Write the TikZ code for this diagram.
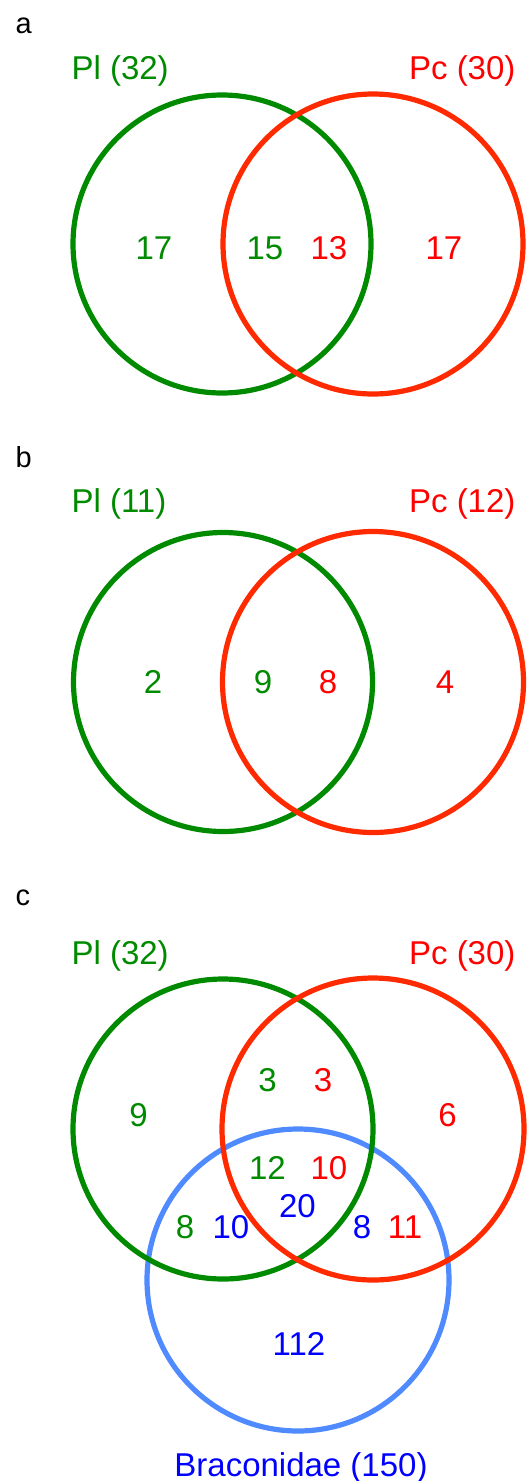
\documentclass[tikz,border=0pt]{standalone}
\usepackage{fontspec}
\setmainfont{Liberation Sans}
\definecolor{PlGreen}{HTML}{008A00}
\definecolor{PcRed}{HTML}{FF2A00}
\definecolor{PcText}{HTML}{FF0000}
\definecolor{BrBlue}{HTML}{4F8BFF}
\definecolor{BrText}{HTML}{0000FF}

\begin{document}
\begin{tikzpicture}[x=1pt, y=-1pt,
    setline/.style={line width=5.2pt},
    num/.style={font=\fontsize{33}{36}\selectfont},
    panel/.style={font=\fontsize{29}{32}\selectfont, anchor=base west}]
    \useasboundingbox (0,0) rectangle (529,1481);

    % Panel a
    \node[panel] (pa) at (12, 33.5) {a};
    \node[num, PlGreen, anchor=base west] (pla) at (68, 79.5) {Pl (32)};
    \node[num, PcText, anchor=base east] (pca) at (519, 79.5) {Pc (30)};
    \draw[PlGreen, setline] (222, 244) circle (149);
    \draw[PcRed, setline] (373, 244) circle (150);
    \node[num, PlGreen] (a1) at (154, 248) {17};
    \node[num, PlGreen] (a2) at (265, 248) {15};
    \node[num, PcText] (a3) at (329, 248) {13};
    \node[num, PcText] (a4) at (444, 248) {17};

    % Panel b
    \node[panel] (pb) at (12, 467) {b};
    \node[num, PlGreen, anchor=base west] (plb) at (68, 512.5) {Pl (11)};
    \node[num, PcText, anchor=base east] (pcb) at (519, 512.5) {Pc (12)};
    \draw[PlGreen, setline] (223, 682) circle (149.5);
    \draw[PcRed, setline] (373, 682) circle (150.5);
    \node[num, PlGreen] (b1) at (153, 682) {2};
    \node[num, PlGreen] (b2) at (263, 682) {9};
    \node[num, PcText] (b3) at (328, 682) {8};
    \node[num, PcText] (b4) at (445, 682) {4};

    % Panel c
    \node[panel] (pc) at (12, 905) {c};
    \node[num, PlGreen, anchor=base west] (plc) at (68, 964) {Pl (32)};
    \node[num, PcText, anchor=base east] (pcc) at (519, 964) {Pc (30)};
    \draw[BrBlue, setline] (298, 1280) circle (151);
    \draw[PlGreen, setline] (223, 1129) circle (150);
    \draw[PcRed, setline] (373, 1129) circle (151);
    \node[num, PlGreen] (c1) at (138.5, 1115) {9};
    \node[num, PlGreen] (c2) at (267.5, 1080) {3};
    \node[num, PcText] (c3) at (323, 1080) {3};
    \node[num, PcText] (c4) at (447.5, 1115) {6};
    \node[num, PlGreen] (c5) at (267.5, 1168) {12};
    \node[num, PcText] (c6) at (329, 1168) {10};
    \node[num, BrText] (c7) at (297.5, 1206) {20};
    \node[num, PlGreen] (c8) at (185, 1227.5) {8};
    \node[num, BrText] (c9) at (231, 1227.5) {10};
    \node[num, BrText] (c10) at (362, 1227.5) {8};
    \node[num, PcText] (c11) at (405, 1227.5) {11};
    \node[num, BrText] (c12) at (299, 1344) {112};
    \node[num, BrText, anchor=base] (brc) at (301, 1476) {Braconidae (150)};

\end{tikzpicture}
\end{document}
